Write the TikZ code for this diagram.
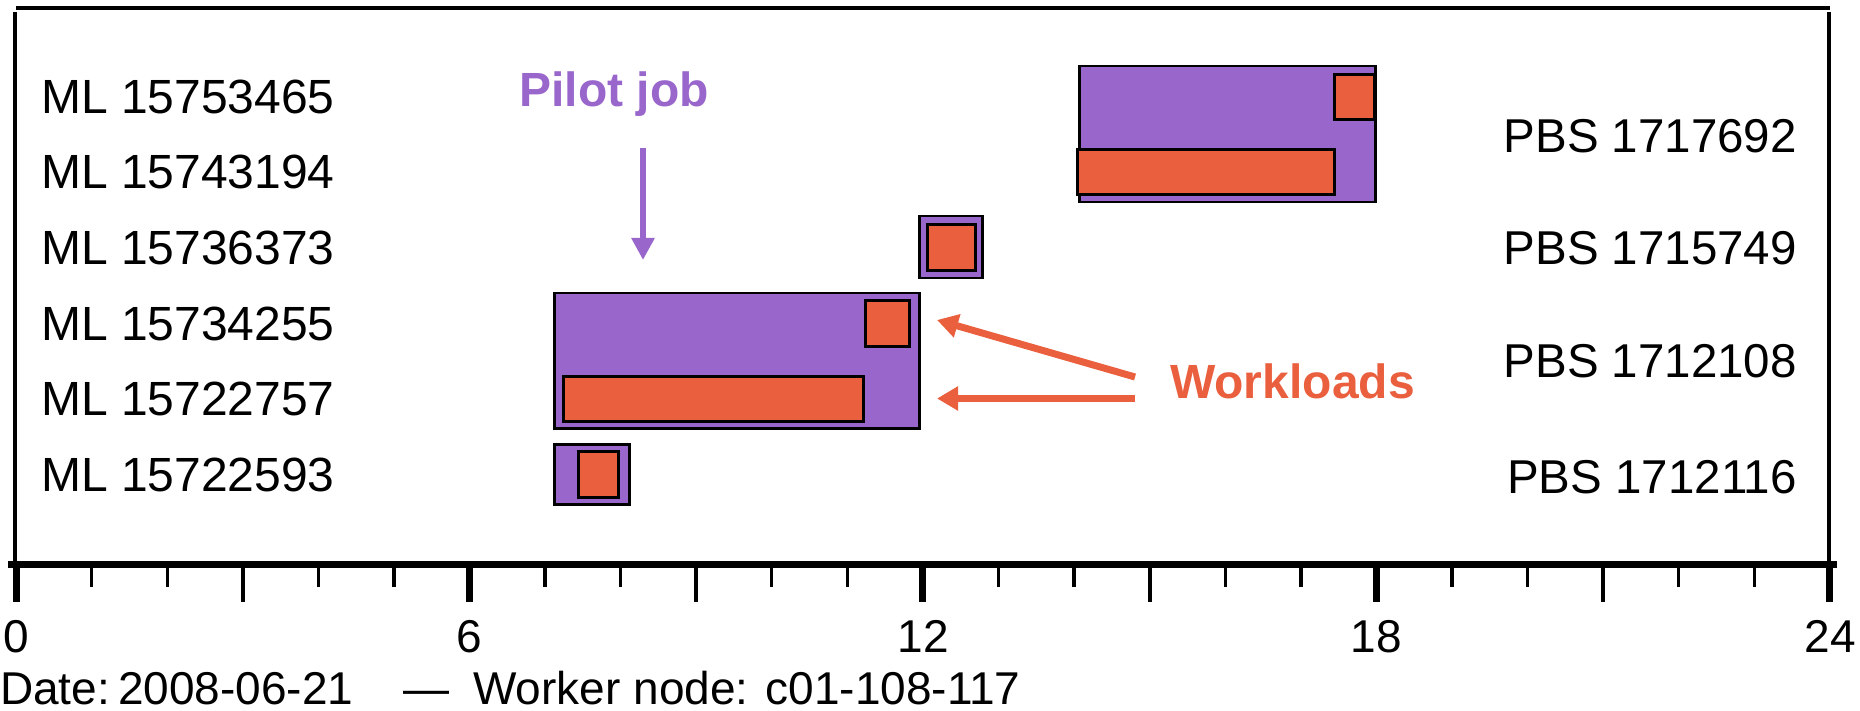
\documentclass[tikz,border=0pt]{standalone}
\usepackage{fontspec}
\setmainfont{Liberation Sans}
\usetikzlibrary{arrows.meta}
\definecolor{pilotc}{RGB}{153,102,204}
\definecolor{workc}{RGB}{234,95,62}
\begin{document}
\begin{tikzpicture}[x=1pt,y=-1pt,
  lbl/.style={inner sep=0pt, font=\fontsize{48}{50}\selectfont},
  pbslbl/.style={inner sep=0pt, font=\fontsize{47.5}{50}\selectfont},
  axlbl/.style={inner sep=0pt, anchor=base, font=\fontsize{46}{50}\selectfont},
  callout/.style={inner sep=0pt, font=\fontsize{48}{50}\selectfont\bfseries},
  pilotbox/.style={draw=black, line width=2.5pt, fill=pilotc, inner sep=0pt, anchor=north west},
  workbox/.style={draw=black, line width=3pt, fill=workc, inner sep=0pt, anchor=north west},
  frameline/.style={line width=3.5pt},
  pilotarrow/.style={draw=pilotc, line width=6pt, -{Triangle[width=22pt,length=22pt]}},
  workarrow/.style={draw=workc, line width=7pt, -{Triangle[width=23pt,length=21pt]}},
]
\useasboundingbox (0,0) rectangle (1860,711);

% frame
\draw[line width=4pt] (16,8) -- (1830,8);
\draw[frameline] (15,12) -- (15,564);
\draw[frameline] (1829,12) -- (1829,564);

% ticks
\foreach \h in {0,...,24}{
  \pgfmathtruncatemacro\rs{mod(\h,6)}
  \pgfmathtruncatemacro\rt{mod(\h,3)}
  \ifnum\rs=0 \def\tw{7}\def\tl{602}\else\ifnum\rt=0 \def\tw{4}\def\tl{602}\else\def\tw{3.3}\def\tl{587}\fi\fi
  \draw[line width=\tw pt] ({16+75.58*\h},564) -- ({16+75.58*\h},\tl);
}
% axis
\draw[line width=7.5pt] (8,564.5) -- (1837,564.5);

% axis labels
\node[axlbl] (t0) at (16,652) {0};
\node[axlbl] (t6) at (469.5,652) {6};
\node[axlbl] (t12) at (923,652) {12};
\node[axlbl] (t18) at (1376.5,652) {18};
\node[axlbl] (t24) at (1830,652) {24};

\node[inner sep=0pt, anchor=base west, font=\fontsize{46}{50}\selectfont] (date) at (0,704)
  {Date:\hspace{8pt}2008-06-21\hspace{50pt}—\hspace{24pt}Worker node: c01-108-117};

% left labels
\node[lbl, anchor=base west] (ml1) at (41,113.5) {ML 15753465};
\node[lbl, anchor=base west] (ml2) at (41,189) {ML 15743194};
\node[lbl, anchor=base west] (ml3) at (41,264.5) {ML 15736373};
\node[lbl, anchor=base west] (ml4) at (41,340) {ML 15734255};
\node[lbl, anchor=base west] (ml5) at (41,415.5) {ML 15722757};
\node[lbl, anchor=base west] (ml6) at (41,491) {ML 15722593};

% right labels
\node[pbslbl, anchor=base east] (pbs1) at (1797,153) {PBS 1717692};
\node[pbslbl, anchor=base east] (pbs2) at (1797,265) {PBS 1715749};
\node[pbslbl, anchor=base east] (pbs3) at (1797,377) {PBS 1712108};
\node[pbslbl, anchor=base east] (pbs4) at (1797,493) {PBS 1712116};

% pilot boxes and workloads
\node[pilotbox, minimum width=296pt, minimum height=136pt] (pA) at (1078,65) {};
\node[workbox, minimum width=40pt, minimum height=45pt] (wA1) at (1333,73) {};
\node[workbox, minimum width=257pt, minimum height=45pt] (wA2) at (1076,148) {};

\node[pilotbox, minimum width=63pt, minimum height=62pt] (pB) at (918,215) {};
\node[workbox, minimum width=48pt, minimum height=46pt] (wB1) at (926,223) {};

\node[pilotbox, minimum width=365pt, minimum height=135pt] (pC) at (553,292) {};
\node[workbox, minimum width=44pt, minimum height=46pt] (wC1) at (864,299) {};
\node[workbox, minimum width=300pt, minimum height=45pt] (wC2) at (562,375) {};

\node[pilotbox, minimum width=75pt, minimum height=60pt] (pD) at (553,443) {};
\node[workbox, minimum width=40pt, minimum height=46pt] (wD1) at (577,450) {};

% callouts
\node[callout, text=pilotc, anchor=base] (pilot) at (614,107) {Pilot job};
\coordinate (pj1) at (643,148);
\coordinate (pj2) at (643,260);
\draw[pilotarrow] (pj1) -- (pj2);

\node[callout, text=workc, anchor=base west] (work) at (1170,398) {Workloads};
\coordinate (w1s) at (1135,377);
\coordinate (w1e) at (937,320);
\coordinate (w2s) at (1135,398.5);
\coordinate (w2e) at (937,398.5);
\draw[workarrow] (w1s) -- (w1e);
\draw[workarrow] (w2s) -- (w2e);
\end{tikzpicture}
\end{document}
